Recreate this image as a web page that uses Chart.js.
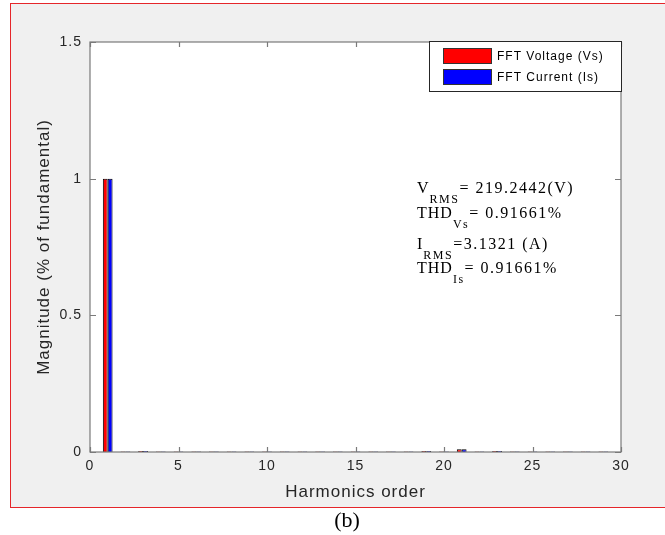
<!DOCTYPE html>
<html>
<head>
<meta charset="utf-8">
<script src="https://cdn.jsdelivr.net/npm/chart.js@4.4.1/dist/chart.umd.min.js"></script>
<style>
  html, body { margin: 0; padding: 0; background: #fff; }
  #wrap { width: 665px; height: 535px; }
</style>
</head>
<body>
<div id="wrap"><canvas id="myChart" width="665" height="535"></canvas></div>
<script>
// harmonic orders on the x axis
var harmonics = [1, 2, 3, 4, 5, 6, 7, 8, 9, 10, 11, 12, 13, 14, 15, 16, 17, 18, 19, 20, 21, 22, 23, 24, 25, 26, 27, 28, 29];

// FFT magnitude (fraction of fundamental)
var voltageMag = [1, 0.002, 0.004, 0.002, 0.002, 0.002, 0.002, 0.002, 0.002, 0.002, 0.002, 0.002, 0.002, 0.002, 0.002, 0.002, 0.002, 0.002, 0.004, 0.002, 0.01, 0.002, 0.004, 0.002, 0.002, 0.002, 0.002, 0.002, 0.002];
var currentMag = [1, 0.002, 0.004, 0.002, 0.002, 0.002, 0.002, 0.002, 0.002, 0.002, 0.002, 0.002, 0.002, 0.002, 0.002, 0.002, 0.002, 0.002, 0.004, 0.002, 0.01, 0.002, 0.004, 0.002, 0.002, 0.002, 0.002, 0.002, 0.002];

var seriesLabels = ['FFT Voltage (Vs)', 'FFT Current (Is)'];
var seriesColors = ['#ff0000', '#0000ff'];

var xTicks = [0, 5, 10, 15, 20, 25, 30];
var yTicks = [0, 0.5, 1, 1.5];

// text box: [main, subscript, rest]
var statLines = [
  ['V', 'RMS', '= 219.2442(V)'],
  ['THD', 'Vs', '= 0.91661%'],
  ['I', 'RMS', '=3.1321 (A)'],
  ['THD', 'Is', '= 0.91661%']
];

var sansFont = '"Liberation Sans", Arial, Helvetica, sans-serif';
var serifFont = '"Liberation Serif", "Times New Roman", serif';
var textColor = '#262626';
var axisColor = '#7a7a7a';

function toPoints(values) {
  return harmonics.map(function(h, i) { return { x: h, y: values[i] }; });
}

// figure background, red frame, white plot area
var figureBg = {
  id: 'figureBg',
  beforeDraw: function(chart) {
    var ctx = chart.ctx;
    var a = chart.chartArea;
    ctx.save();
    ctx.fillStyle = '#ffffff';
    ctx.fillRect(0, 0, chart.width, chart.height);
    ctx.fillStyle = '#f0f0f0';
    ctx.fillRect(10, 3, chart.width, 505);
    ctx.strokeStyle = '#e5262a';
    ctx.lineWidth = 1;
    ctx.strokeRect(10.5, 3.5, chart.width + 10, 504);
    ctx.fillStyle = '#ffffff';
    ctx.fillRect(a.left, a.top, a.right - a.left, a.bottom - a.top);
    ctx.restore();
    // matlab text looks a bit spread out
    ctx.letterSpacing = '1px';
  }
};

// box round the axes with inward ticks on all four sides
var axesBox = {
  id: 'axesBox',
  afterDatasetsDraw: function(chart) {
    var ctx = chart.ctx;
    var a = chart.chartArea;
    var xs = chart.scales.x;
    var ys = chart.scales.y;
    ctx.save();
    ctx.strokeStyle = axisColor;
    ctx.lineWidth = 1.2;
    ctx.strokeRect(a.left, a.top, a.right - a.left, a.bottom - a.top);
    ctx.beginPath();
    xTicks.forEach(function(t) {
      var px = Math.round(xs.getPixelForValue(t)) + 0.5;
      ctx.moveTo(px, a.bottom); ctx.lineTo(px, a.bottom - 5);
      ctx.moveTo(px, a.top); ctx.lineTo(px, a.top + 5);
    });
    yTicks.forEach(function(t) {
      var py = Math.round(ys.getPixelForValue(t)) + 0.5;
      ctx.moveTo(a.left, py); ctx.lineTo(a.left + 6, py);
      ctx.moveTo(a.right, py); ctx.lineTo(a.right - 6, py);
    });
    ctx.stroke();
    ctx.restore();
  }
};

// legend box, stats text and the (b) caption
var extras = {
  id: 'extras',
  afterDraw: function(chart) {
    var ctx = chart.ctx;
    ctx.save();

    // legend
    ctx.fillStyle = '#ffffff';
    ctx.fillRect(429, 41, 192, 50);
    ctx.strokeStyle = '#262626';
    ctx.lineWidth = 1;
    ctx.strokeRect(429.5, 41.5, 192, 50);
    chart.data.datasets.forEach(function(ds, i) {
      var top = 48 + i * 21;
      ctx.fillStyle = ds.backgroundColor;
      ctx.fillRect(443, top, 49, 16);
      ctx.strokeStyle = '#333';
      ctx.strokeRect(443.5, top + 0.5, 48, 15);
      ctx.fillStyle = '#000';
      ctx.font = '12px ' + sansFont;
      ctx.letterSpacing = '1px';
      ctx.textBaseline = 'middle';
      ctx.textAlign = 'left';
      ctx.fillText(ds.label, 497, top + 8.5);
    });

    // stats text
    var baselines = [193, 218, 249, 273];
    ctx.fillStyle = '#000';
    ctx.textBaseline = 'alphabetic';
    statLines.forEach(function(line, i) {
      var x = 417;
      var y = baselines[i];
      ctx.font = '16px ' + serifFont;
      ctx.letterSpacing = '1px';
      ctx.fillText(line[0], x, y);
      x += ctx.measureText(line[0]).width;
      ctx.font = '12px ' + serifFont;
      ctx.letterSpacing = '1.5px';
      ctx.fillText(line[1], x, y + 10);
      x += ctx.measureText(line[1]).width;
      ctx.font = '16px ' + serifFont;
      ctx.letterSpacing = '1.5px';
      ctx.fillText(line[2], x, y);
    });

    // caption under the figure
    ctx.font = '22px ' + serifFont;
    ctx.letterSpacing = '0px';
    ctx.textAlign = 'center';
    ctx.fillText('(b)', 347, 527);
    ctx.restore();
  }
};

var ctx = document.getElementById('myChart').getContext('2d');
var chart = new Chart(ctx, {
  type: 'bar',
  data: {
    datasets: [{
      label: seriesLabels[0],
      data: toPoints(voltageMag),
      backgroundColor: seriesColors[0],
      borderColor: '#000000',
      borderWidth: 1
    }, {
      label: seriesLabels[1],
      data: toPoints(currentMag),
      backgroundColor: seriesColors[1],
      borderColor: '#000000',
      borderWidth: 1
    }]
  },
  options: {
    responsive: false,
    animation: false,
    devicePixelRatio: 1,
    layout: { padding: { left: 0, top: 42, right: 44, bottom: 0 } },
    datasets: {
      bar: { categoryPercentage: 0.55, barPercentage: 1.0, borderSkipped: 'start' }
    },
    plugins: {
      legend: { display: false },
      tooltip: { enabled: false }
    },
    scales: {
      x: {
        type: 'linear',
        min: 0,
        max: 30,
        offset: false,
        grid: { display: false, drawTicks: false },
        border: { display: false },
        ticks: {
          stepSize: 5,
          padding: 6,
          color: textColor,
          font: { family: sansFont, size: 14 },
          maxRotation: 0
        },
        title: {
          display: true,
          text: 'Harmonics order',
          color: textColor,
          font: { family: sansFont, size: 17 },
          padding: { top: 0, bottom: 32 }
        },
        afterFit: function(scale) { scale.height = 83; }
      },
      y: {
        min: 0,
        max: 1.5,
        grid: { display: false, drawTicks: false },
        border: { display: false },
        ticks: {
          stepSize: 0.5,
          padding: 8,
          color: textColor,
          font: { family: sansFont, size: 14 },
          // matlab style: 1 not 1.0
          callback: function(value) { return String(value); }
        },
        title: {
          display: true,
          text: 'Magnitude (% of fundamental)',
          color: textColor,
          font: { family: sansFont, size: 17 },
          padding: { top: 34, bottom: 0 }
        },
        afterFit: function(scale) { scale.width = 90; }
      }
    }
  },
  plugins: [figureBg, axesBox, extras]
});
</script>
</body>
</html>
